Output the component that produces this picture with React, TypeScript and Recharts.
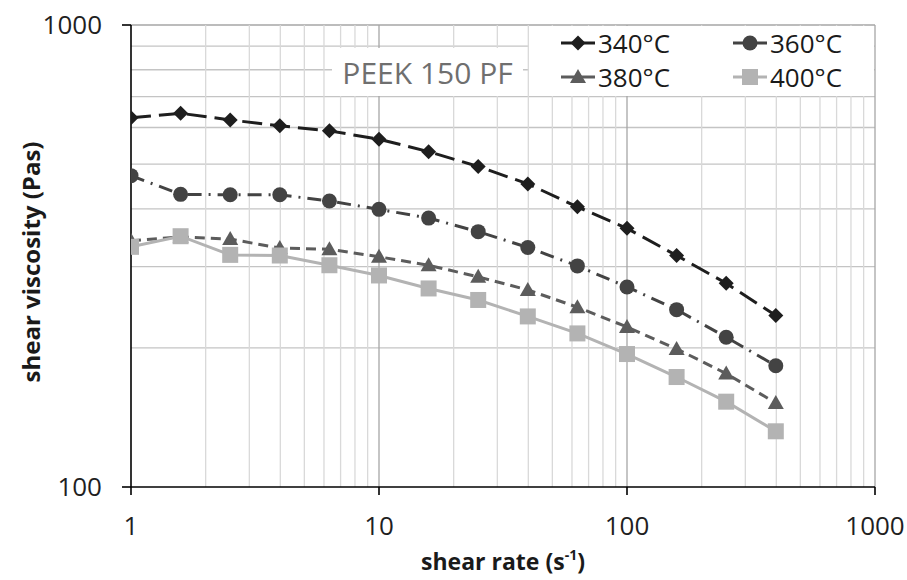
import React from "react";
import {
  CartesianGrid,
  Label,
  Line,
  LineChart,
  ReferenceLine,
  XAxis,
  YAxis,
} from "recharts";

// shear rate (1/s), 5 points per decade
const shearRate = [1, 1.585, 2.512, 3.981, 6.31, 10, 15.85, 25.12, 39.81, 63.1, 100, 158.5, 251.2, 398.1];

// shear viscosity (Pas) per temperature
const visc340 = [630, 644, 623, 605, 590, 566, 532, 494, 453, 404, 363, 317, 276, 235];
const visc360 = [472, 430, 429, 429, 416, 399, 382, 357, 330, 301, 271, 242, 211, 183];
const visc380 = [341, 348, 344, 329, 327, 315, 302, 285, 267, 245, 222, 199, 176, 152];
const visc400 = [331, 349, 318, 317, 302, 287, 269, 254, 234, 215, 194, 173, 153, 132];

const xTicks = [1, 10, 100, 1000];
const yTicks = [100, 1000];
const xMinor = [2, 3, 4, 5, 6, 7, 8, 9, 20, 30, 40, 50, 60, 70, 80, 90, 200, 300, 400, 500, 600, 700, 800, 900];
const xMajor = [10, 100, 1000];
const yGrid = [200, 300, 400, 500, 600, 700, 800, 900, 1000];

const data = shearRate.map((x, i) => ({
  x,
  t340: visc340[i],
  t360: visc360[i],
  t380: visc380[i],
  t400: visc400[i],
}));

const FONT = "'Open Sans', sans-serif";

const C340 = "#1e1e1e";
const C360 = "#434343";
const C380 = "#5c5c5c";
const C400 = "#b3b3b3";

const Diamond = ({ cx, cy, s = 7.5, color = C340 }: any) => (
  <path d={`M${cx},${cy - s}L${cx + s},${cy}L${cx},${cy + s}L${cx - s},${cy}Z`} fill={color} />
);
const Dot = ({ cx, cy, r = 7.5, color = C360 }: any) => <circle cx={cx} cy={cy} r={r} fill={color} />;
const Tri = ({ cx, cy, s = 8, color = C380 }: any) => (
  <path d={`M${cx},${cy - s}L${cx + s},${cy + s * 0.75}L${cx - s},${cy + s * 0.75}Z`} fill={color} />
);
const Sq = ({ cx, cy, s = 8, color = C400 }: any) => (
  <rect x={cx - s} y={cy - s} width={2 * s} height={2 * s} fill={color} />
);

const markerDot = (Shape: any) => (props: any) => {
  const { cx, cy, index } = props;
  if (cx == null || cy == null) return <g key={`m-${index}`} />;
  return (
    <g key={`m-${index}`}>
      <Shape cx={cx} cy={cy} />
    </g>
  );
};

const legendItems = [
  { name: "340°C", color: C340, Shape: Diamond, left: 561, top: 43 },
  { name: "360°C", color: C360, Shape: Dot, left: 733, top: 43 },
  { name: "380°C", color: C380, Shape: Tri, left: 561, top: 77 },
  { name: "400°C", color: C400, Shape: Sq, left: 733, top: 77 },
];

const XTitle = () => (
  <text x={503} y={570} textAnchor="middle" fontFamily={FONT} fontWeight={700} fontSize={23} fill="#1a1a1a">
    shear rate (s
    <tspan fontSize={14} dy={-10}>-1</tspan>
    <tspan dy={10}>)</tspan>
  </text>
);

const YTitle = () => (
  <text
    x={30}
    y={262}
    transform="rotate(-90 30 262)"
    textAnchor="middle"
    dominantBaseline="central"
    fontFamily={FONT}
    fontWeight={700}
    fontSize={24}
    fill="#1a1a1a"
  >
    shear viscosity (Pas)
  </text>
);

export default function App() {
  const tick = { fontFamily: FONT, fontSize: 26, fill: "#1f1f1f" };
  return (
    <div style={{ position: "absolute", left: 0, top: 0, width: 907, height: 580, background: "#fff" }}>
      <LineChart width={907} height={580} data={data} margin={{ top: 25, right: 32, bottom: 0, left: 0 }}>
        <CartesianGrid horizontal={false} vertical={false} />
        {yGrid.map((v) => (
          <ReferenceLine key={`y${v}`} y={v} stroke={v === 1000 ? "#a6a6a6" : "#c4c4c4"} strokeWidth={1.3} />
        ))}
        {xMinor.map((v) => (
          <ReferenceLine key={`xm${v}`} x={v} stroke="#d9d9d9" strokeWidth={1.3} />
        ))}
        {xMajor.map((v) => (
          <ReferenceLine key={`xM${v}`} x={v} stroke="#a6a6a6" strokeWidth={1.3} />
        ))}
        <XAxis
          dataKey="x"
          type="number"
          scale="log"
          domain={[1, 1000]}
          ticks={xTicks}
          allowDataOverflow
          height={93}
          tick={tick}
          tickSize={8}
          tickMargin={22}
          axisLine={{ stroke: "#000", strokeWidth: 1.6 }}
          tickLine={{ stroke: "#000", strokeWidth: 1.6 }}
          interval={0}
        >
          <Label content={XTitle} />
        </XAxis>
        <YAxis
          type="number"
          scale="log"
          domain={[100, 1000]}
          ticks={yTicks}
          allowDataOverflow
          width={131}
          tick={tick}
          tickSize={9}
          tickMargin={20}
          axisLine={{ stroke: "#000", strokeWidth: 1.6 }}
          tickLine={{ stroke: "#000", strokeWidth: 1.6 }}
          interval={0}
        >
          <Label content={YTitle} />
        </YAxis>
        <Line
          dataKey="t340"
          stroke={C340}
          strokeWidth={3}
          strokeDasharray="20 8"
          dot={markerDot(Diamond)}
          isAnimationActive={false}
        />
        <Line
          dataKey="t360"
          stroke={C360}
          strokeWidth={3}
          strokeDasharray="14 7 2 7"
          dot={markerDot(Dot)}
          isAnimationActive={false}
        />
        <Line
          dataKey="t380"
          stroke={C380}
          strokeWidth={3}
          strokeDasharray="10 6"
          dot={markerDot(Tri)}
          isAnimationActive={false}
        />
        <Line
          dataKey="t400"
          stroke={C400}
          strokeWidth={3}
          dot={markerDot(Sq)}
          isAnimationActive={false}
        />
      </LineChart>

      {/* text box over the grid */}
      <div
        style={{
          position: "absolute",
          left: 332,
          top: 48,
          width: 191,
          height: 48,
          background: "#fff",
          display: "flex",
          alignItems: "center",
          justifyContent: "center",
          fontFamily: FONT,
          fontSize: 30,
          color: "#6f6f6f",
          whiteSpace: "nowrap",
        }}
      >
        PEEK 150 PF
      </div>

      {/* legend box */}
      <div style={{ position: "absolute", left: 529, top: 26, width: 345, height: 70, background: "#fff" }} />
      {legendItems.map((it) => (
        <div
          key={it.name}
          style={{
            position: "absolute",
            left: it.left,
            top: it.top - 18,
            height: 36,
            display: "flex",
            alignItems: "center",
            fontFamily: FONT,
            fontSize: 26,
            color: "#1a1a1a",
            whiteSpace: "nowrap",
          }}
        >
          <svg width={34} height={20} style={{ marginRight: 3 }}>
            <line x1={0} y1={10} x2={34} y2={10} stroke={it.color} strokeWidth={3} />
            <it.Shape cx={17} cy={10} />
          </svg>
          {it.name}
        </div>
      ))}
    </div>
  );
}
